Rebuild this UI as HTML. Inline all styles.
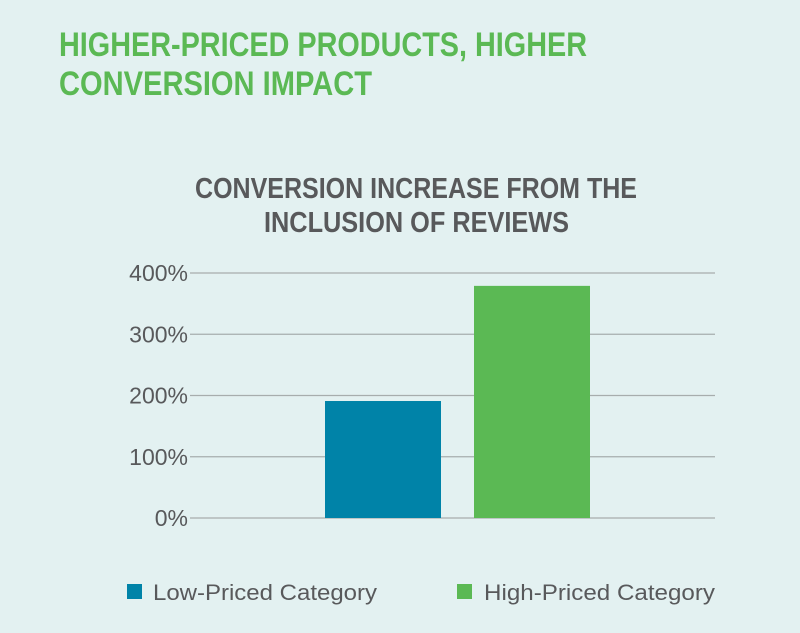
<!DOCTYPE html>
<html><head><meta charset="utf-8"><style>
html,body{margin:0;padding:0;background:#e3f1f1;}
svg{display:block;font-family:"Liberation Sans",sans-serif;}
</style></head><body>
<svg id="chart" width="800" height="633" viewBox="0 0 800 633">
<rect width="800" height="633" fill="#e3f1f1"/>
<g fill="#5bb954" font-weight="bold" font-size="34">
<text x="59" y="56" textLength="528" lengthAdjust="spacingAndGlyphs">HIGHER-PRICED PRODUCTS, HIGHER</text>
<text x="59" y="95" textLength="313" lengthAdjust="spacingAndGlyphs">CONVERSION IMPACT</text>
</g>
<g fill="#58595b" font-weight="bold" font-size="29">
<text x="195" y="198" textLength="442" lengthAdjust="spacingAndGlyphs">CONVERSION INCREASE FROM THE</text>
<text x="264" y="232" textLength="305" lengthAdjust="spacingAndGlyphs">INCLUSION OF REVIEWS</text>
</g>
<g id="grid"></g>
<g id="ticks"></g>
<g id="bars"></g>
<g font-size="22" fill="#58595b">
<rect x="127" y="584" width="15" height="15" fill="#0083a8"/>
<text x="153" y="600" textLength="224" lengthAdjust="spacingAndGlyphs">Low-Priced Category</text>
<rect x="457" y="584" width="15" height="15" fill="#5bb954"/>
<text x="484" y="600" textLength="231" lengthAdjust="spacingAndGlyphs">High-Priced Category</text>
</g>
</svg>
<script>
const categories = ["Low-Priced Category", "High-Priced Category"];
const values = [191, 379];
const tickValues = [0, 100, 200, 300, 400];
const tickLabels = ["0%", "100%", "200%", "300%", "400%"];
const colors = ["#0083a8", "#5bb954"];
const NS = "http://www.w3.org/2000/svg";
function y(v){ return 518 - v * (245 / 400); }
function xBand(i){ return 325 + i * 149; }
const bw = 116;
const grid = document.getElementById("grid");
const ticks = document.getElementById("ticks");
tickValues.forEach((t, i) => {
  const l = document.createElementNS(NS, "line");
  l.setAttribute("x1", 190); l.setAttribute("x2", 715);
  l.setAttribute("y1", y(t)); l.setAttribute("y2", y(t));
  l.setAttribute("stroke", "#a7adad"); l.setAttribute("stroke-width", "1.2");
  
  
  grid.appendChild(l);
  const tx = document.createElementNS(NS, "text");
  tx.setAttribute("x", 188); tx.setAttribute("y", y(t) + 8);
  tx.setAttribute("text-anchor", "end"); tx.setAttribute("font-size", "23");
  tx.setAttribute("fill", "#58595b");
  tx.textContent = tickLabels[i];
  
  
  ticks.appendChild(tx);
});
const bars = document.getElementById("bars");
values.forEach((v, i) => {
  const r = document.createElementNS(NS, "rect");
  r.setAttribute("x", xBand(i)); r.setAttribute("width", bw);
  r.setAttribute("y", y(v)); r.setAttribute("height", y(0) - y(v));
  r.setAttribute("fill", colors[i]);
  
  
  bars.appendChild(r);
});
</script>
</body></html>
